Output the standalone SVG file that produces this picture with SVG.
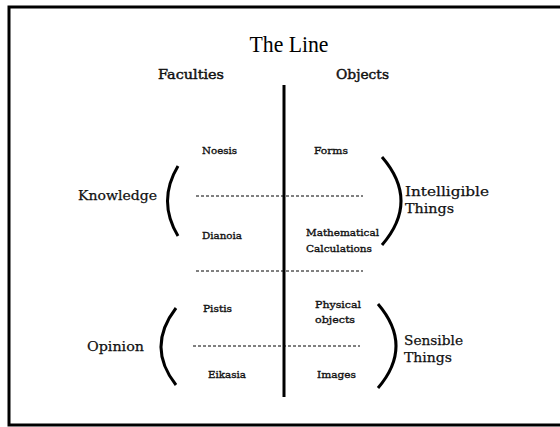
<svg xmlns="http://www.w3.org/2000/svg" width="560" height="427" viewBox="0 0 560 427">
<style>
.t{font-family:"DejaVu Serif","Liberation Serif",serif;fill:#111;stroke:#111;stroke-width:0.25}
.big{font-size:13.5px}
.hd{font-size:13.5px;stroke-width:0.45}
.sm{font-size:10px;stroke-width:0.35}
.br{fill:none;stroke:#000;stroke-width:3}
.dash{stroke:#000;stroke-width:1;stroke-dasharray:3,2}
</style>
<rect x="0" y="0" width="560" height="427" fill="#fff"/>
<rect x="9" y="7" width="560" height="418" fill="none" stroke="#000" stroke-width="3"/>
<g id="title">
<text x="289" y="52" text-anchor="middle" font-family="Liberation Serif,serif" font-size="23" textLength="79" lengthAdjust="spacingAndGlyphs">The Line</text>
</g>
<g id="headers">
<text class="t hd" x="158" y="79" textLength="66" lengthAdjust="spacingAndGlyphs">Faculties</text>
<text class="t hd" x="336" y="79" textLength="53" lengthAdjust="spacingAndGlyphs">Objects</text>
</g>
<g id="connectors">
<line x1="284" y1="85" x2="284" y2="397" stroke="#000" stroke-width="3"/>
<line class="dash" x1="196" y1="196" x2="363" y2="196"/>
<line class="dash" x1="196" y1="271" x2="363" y2="271"/>
<line class="dash" x1="193" y1="346" x2="360" y2="346"/>
</g>
<g id="knowledge">
<path class="br" d="M178,166 Q157,201 178,236"/>
<text class="t big" x="78" y="200" textLength="79" lengthAdjust="spacingAndGlyphs">Knowledge</text>
</g>
<g id="noesis"><text class="t sm" x="202" y="154" textLength="35" lengthAdjust="spacingAndGlyphs">Noesis</text></g>
<g id="dianoia"><text class="t sm" x="202" y="239" textLength="40" lengthAdjust="spacingAndGlyphs">Dianoia</text></g>
<g id="forms"><text class="t sm" x="314" y="154" textLength="34" lengthAdjust="spacingAndGlyphs">Forms</text></g>
<g id="math">
<text class="t sm" x="306" y="236" textLength="73" lengthAdjust="spacingAndGlyphs">Mathematical</text>
<text class="t sm" x="306" y="252" textLength="66" lengthAdjust="spacingAndGlyphs">Calculations</text>
</g>
<g id="intelligible">
<path class="br" d="M382,157 Q420,201 382,245"/>
<text class="t big" x="405" y="196" textLength="84" lengthAdjust="spacingAndGlyphs">Intelligible</text>
<text class="t big" x="405" y="213" textLength="49" lengthAdjust="spacingAndGlyphs">Things</text>
</g>
<g id="opinion">
<path class="br" d="M176,308 Q146,347 176,385"/>
<text class="t big" x="87" y="351" textLength="57" lengthAdjust="spacingAndGlyphs">Opinion</text>
</g>
<g id="pistis"><text class="t sm" x="203" y="312" textLength="29" lengthAdjust="spacingAndGlyphs">Pistis</text></g>
<g id="eikasia"><text class="t sm" x="208" y="378" textLength="38" lengthAdjust="spacingAndGlyphs">Eikasia</text></g>
<g id="physical">
<text class="t sm" x="315" y="308" textLength="46" lengthAdjust="spacingAndGlyphs">Physical</text>
<text class="t sm" x="315" y="323" textLength="40" lengthAdjust="spacingAndGlyphs">objects</text>
</g>
<g id="images"><text class="t sm" x="317" y="378" textLength="39" lengthAdjust="spacingAndGlyphs">Images</text></g>
<g id="sensible">
<path class="br" d="M378,304 Q414,346 378,388"/>
<text class="t big" x="404" y="345" textLength="59" lengthAdjust="spacingAndGlyphs">Sensible</text>
<text class="t big" x="404" y="362" textLength="48" lengthAdjust="spacingAndGlyphs">Things</text>
</g>
</svg>
